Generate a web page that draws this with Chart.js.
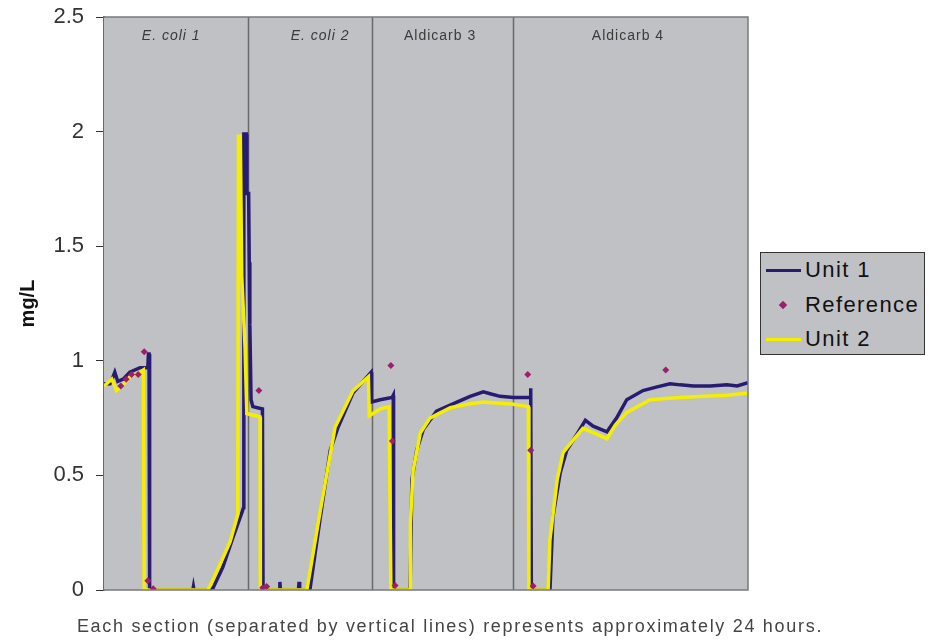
<!DOCTYPE html>
<html>
<head>
<meta charset="utf-8">
<script src="https://cdn.jsdelivr.net/npm/chart.js@4/dist/chart.umd.min.js"></script>
<style>
    html, body {
        margin: 0;
        padding: 0;
        background: #ffffff;
    }

    #contenedor {
        position: relative;
        width: 929px;
        height: 640px;
        font-family: "Liberation Sans", Arial, sans-serif;
    }

    #leyenda {
        position: absolute;
        left: 760px;
        top: 252px;
        width: 165px;
        height: 103px;
        background: #c0c1c5;
        border: 1px solid #333333;
        box-sizing: border-box;
    }

    .fila {
        position: absolute;
        left: 0;
        height: 30px;
        width: 164px;
    }

    .muestra {
        position: absolute;
        left: 5px;
        width: 35px;
    }

    .texto {
        position: absolute;
        left: 44px;
        top: 2px;
        font-size: 22px;
        letter-spacing: 1.4px;
        color: #111111;
        white-space: nowrap;
    }

    #nota {
        position: absolute;
        left: 0;
        width: 900px;
        top: 616px;
        text-align: center;
        font-size: 18px;
        letter-spacing: 1.7px;
        color: #444444;
    }
</style>
</head>
<body>
<div id="contenedor">
    <canvas id="grafico" width="929" height="640"></canvas>
    <div id="leyenda"></div>
    <div id="nota">Each section (separated by vertical lines) represents approximately 24 hours.</div>
</div>

<script>
// Eje x: horas aproximadas desde el inicio del registro.
const unidad1X = [
    0, 1.0, 1.5, 1.8, 2.3, 3.2, 4.3, 6.0, 6.8, 7.3, 7.4, 7.5, 7.6,
    14.8, 14.9, 15.0, 17.3, 18.2, 19.8, 21.5, 23.0, 23.25,
    23.3, 23.7, 23.8, 24.1, 24.2, 24.3, 24.5, 24.8, 26.4, 26.5,
    29.2, 29.3, 29.4, 32.4, 32.5, 32.6, 34.3, 36.0, 37.7, 39.0, 41.5, 44.5, 44.6,
    46.0, 48.0, 48.2, 48.25, 51.0, 51.3, 52.1, 53.2, 55.4, 58.8, 61.0, 63.2, 64.5, 66.0, 68.2, 71.0,
    71.1, 71.2, 74.3, 74.8, 76.0, 77.1, 78.8, 80.2, 81.5, 83.8, 85.4, 87.1, 89.8,
    92.0, 94.3, 96.0, 98.2, 101.0, 103.8, 105.5, 107.3
];
const unidad1Y = [
    0.90, 0.90, 0.93, 0.95, 0.91, 0.92, 0.95, 0.97, 0.97, 0.97, 1.03, 1.03, 0,
    0, 0.015, 0, 0, 0.01, 0.10, 0.23, 0.34, 0.36,
    1.99, 1.99, 1.73, 1.73, 1.43, 1.16, 0.83, 0.80, 0.79, 0,
    0, 0.035, 0, 0, 0.035, 0, 0, 0.31, 0.61, 0.71, 0.86, 0.95, 0.82,
    0.83, 0.84, 0.85, 0, 0, 0.48, 0.61, 0.70, 0.78, 0.82, 0.845, 0.865, 0.855, 0.845, 0.84, 0.84,
    0.88, 0, 0, 0.32, 0.51, 0.61, 0.68, 0.74, 0.715, 0.69, 0.75, 0.83, 0.87,
    0.885, 0.90, 0.895, 0.89, 0.89, 0.895, 0.89, 0.905
];

const unidad2X = [
    0, 1.3, 2.1, 3.2, 4.3, 6.0, 6.55, 6.7,
    17.3, 17.7, 19.3, 21.0, 22.3, 22.4, 22.7, 22.95, 23.5, 23.8, 26.0, 26.05,
    33.8, 36.0, 38.5, 41.5, 44.05, 44.2,
    46.0, 47.5, 47.8, 51.0, 51.05, 51.5, 52.7, 54.3, 57.7, 60.5, 63.2, 66.0, 68.2, 70.7, 70.8,
    74.0, 74.3, 75.5, 76.5, 78.2, 79.8, 82.1, 83.8, 85.2, 87.1, 91.0, 93.5, 96.0, 100.0, 103.8, 107.3
];
const unidad2Y = [
    0.89, 0.92, 0.87, 0.895, 0.93, 0.95, 0.96, 0,
    0, 0.02, 0.11, 0.21, 0.33, 1.98, 1.98, 1.37, 1.06, 0.77, 0.755, 0,
    0, 0.34, 0.71, 0.87, 0.93, 0.76,
    0.79, 0.80, 0, 0, 0.29, 0.52, 0.685, 0.75, 0.795, 0.81, 0.82, 0.815, 0.81, 0.80, 0,
    0, 0.22, 0.48, 0.60, 0.655, 0.705, 0.68, 0.66, 0.72, 0.775, 0.83, 0.835, 0.84, 0.845, 0.85, 0.86
];

const referenciaX = [2.8, 3.7, 4.6, 5.7, 6.7, 7.3, 8.2, 25.8, 26.45, 27.1, 47.8, 48.05, 48.5, 70.6, 71.1, 71.5, 93.6];
const referenciaY = [0.89, 0.92, 0.94, 0.94, 1.04, 0.04, 0.005, 0.87, 0.01, 0.015, 0.98, 0.65, 0.02, 0.94, 0.61, 0.017, 0.96];

const limitesSeccion = [24.0, 44.7, 68.2];
const etiquetasSeccion = ["E. coli 1", "E. coli 2", "Aldicarb 3", "Aldicarb 4"];
const etiquetasCursiva = [true, true, false, false];
const ticksY = [0, 0.5, 1, 1.5, 2, 2.5];
const xMaximo = 107.3;

// Centro de cada rótulo de sección (en horas).
const centrosEtiqueta = [11.2, 36.0, 56.0, 87.3];

const aPuntos = (xs, ys) => xs.map((x, i) => ({ x: x, y: ys[i] }));

// Fondo gris, separadores y nombres de sección.
const fondoSecciones = {
    id: "fondoSecciones",
    beforeDatasetsDraw(chart) {
        const { ctx, chartArea, scales } = chart;
        const { left, right, top, bottom } = chartArea;

        ctx.save();
        ctx.fillStyle = "#c0c1c5";
        ctx.fillRect(left, top, right - left, bottom - top);

        ctx.strokeStyle = "#6a6a6a";
        ctx.lineWidth = 1.5;
        limitesSeccion.forEach(valor => {
            const px = Math.round(scales.x.getPixelForValue(valor)) + 0.5;
            ctx.beginPath();
            ctx.moveTo(px, top);
            ctx.lineTo(px, bottom);
            ctx.stroke();
        });

        ctx.fillStyle = "#3a3a3a";
        ctx.textAlign = "center";
        ctx.textBaseline = "middle";
        ctx.letterSpacing = "1px";
        etiquetasSeccion.forEach((texto, i) => {
            ctx.font = (etiquetasCursiva[i] ? "italic " : "") + "14px 'Liberation Sans', Arial, sans-serif";
            ctx.fillText(texto, scales.x.getPixelForValue(centrosEtiqueta[i]), top + 19);
        });
        ctx.restore();
    },
    afterDraw(chart) {
        const { ctx, chartArea } = chart;
        const { left, right, top, bottom } = chartArea;

        ctx.save();
        ctx.strokeStyle = "#7a7a7a";
        ctx.lineWidth = 1.5;
        ctx.beginPath();
        ctx.moveTo(left, top);
        ctx.lineTo(right, top);
        ctx.lineTo(right, bottom);
        ctx.lineTo(left, bottom);
        ctx.stroke();
        ctx.restore();
    }
};

const datasets = [
    {
        label: "Unit 1",
        data: aPuntos(unidad1X, unidad1Y),
        showLine: true,
        borderColor: "#281c72",
        backgroundColor: "#281c72",
        borderWidth: 3.5,
        pointRadius: 0,
        tension: 0,
        order: 2
    },
    {
        label: "Reference",
        data: aPuntos(referenciaX, referenciaY),
        showLine: false,
        pointStyle: "rectRot",
        pointRadius: 3.5,
        borderWidth: 0,
        backgroundColor: "#9c1f6e",
        borderColor: "#9c1f6e",
        order: 0
    },
    {
        label: "Unit 2",
        data: aPuntos(unidad2X, unidad2Y),
        showLine: true,
        borderColor: "#f4ee00",
        backgroundColor: "#f4ee00",
        borderWidth: 3.5,
        pointRadius: 0,
        tension: 0,
        order: 1
    }
];

new Chart(document.getElementById("grafico"), {
    type: "scatter",
    data: { datasets: datasets },
    plugins: [fondoSecciones],
    options: {
        responsive: false,
        animation: false,
        layout: {
            padding: { top: 17, right: 181, bottom: 50, left: 0 }
        },
        plugins: {
            legend: { display: false },
            tooltip: { enabled: false }
        },
        scales: {
            x: {
                type: "linear",
                display: false,
                min: 0,
                max: xMaximo
            },
            y: {
                min: 0,
                max: 2.5,
                afterBuildTicks: scale => {
                    scale.ticks = ticksY.map(v => ({ value: v }));
                },
                afterFit: scale => {
                    // Ancho fijo del eje y sin margen extra arriba/abajo.
                    scale.width = 104;
                    scale.paddingTop = 0;
                    scale.paddingBottom = 0;
                },
                border: {
                    display: true,
                    color: "#6a6a6a",
                    width: 2
                },
                grid: {
                    drawOnChartArea: false,
                    color: "#333333",
                    tickLength: 8,
                    tickWidth: 1
                },
                ticks: {
                    color: "#333333",
                    padding: 12,
                    font: { family: "'Liberation Sans', Arial, sans-serif", size: 22 },
                    callback: value => String(value)
                },
                title: {
                    display: true,
                    text: "mg/L",
                    color: "#111111",
                    padding: { top: 16, bottom: 0 },
                    font: { family: "'Liberation Sans', Arial, sans-serif", size: 20, weight: "bold" }
                }
            }
        }
    }
});

// Leyenda en HTML con recuadro gris como en la figura original.
const leyenda = document.getElementById("leyenda");
const filasY = [2, 37, 71];

datasets.forEach((ds, i) => {
    const fila = document.createElement("div");
    fila.className = "fila";
    fila.style.top = filasY[i] + "px";

    const muestra = document.createElement("div");
    muestra.className = "muestra";

    if (ds.showLine) {
        muestra.style.top = "14px";
        muestra.style.height = "3px";
        muestra.style.background = ds.borderColor;
    } else {
        muestra.style.top = "12px";
        muestra.style.left = "19px";
        muestra.style.width = "6px";
        muestra.style.height = "6px";
        muestra.style.transform = "rotate(45deg)";
        muestra.style.background = ds.backgroundColor;
    }

    const texto = document.createElement("div");
    texto.className = "texto";
    texto.textContent = ds.label;

    fila.appendChild(muestra);
    fila.appendChild(texto);
    leyenda.appendChild(fila);
});
</script>
</body>
</html>
